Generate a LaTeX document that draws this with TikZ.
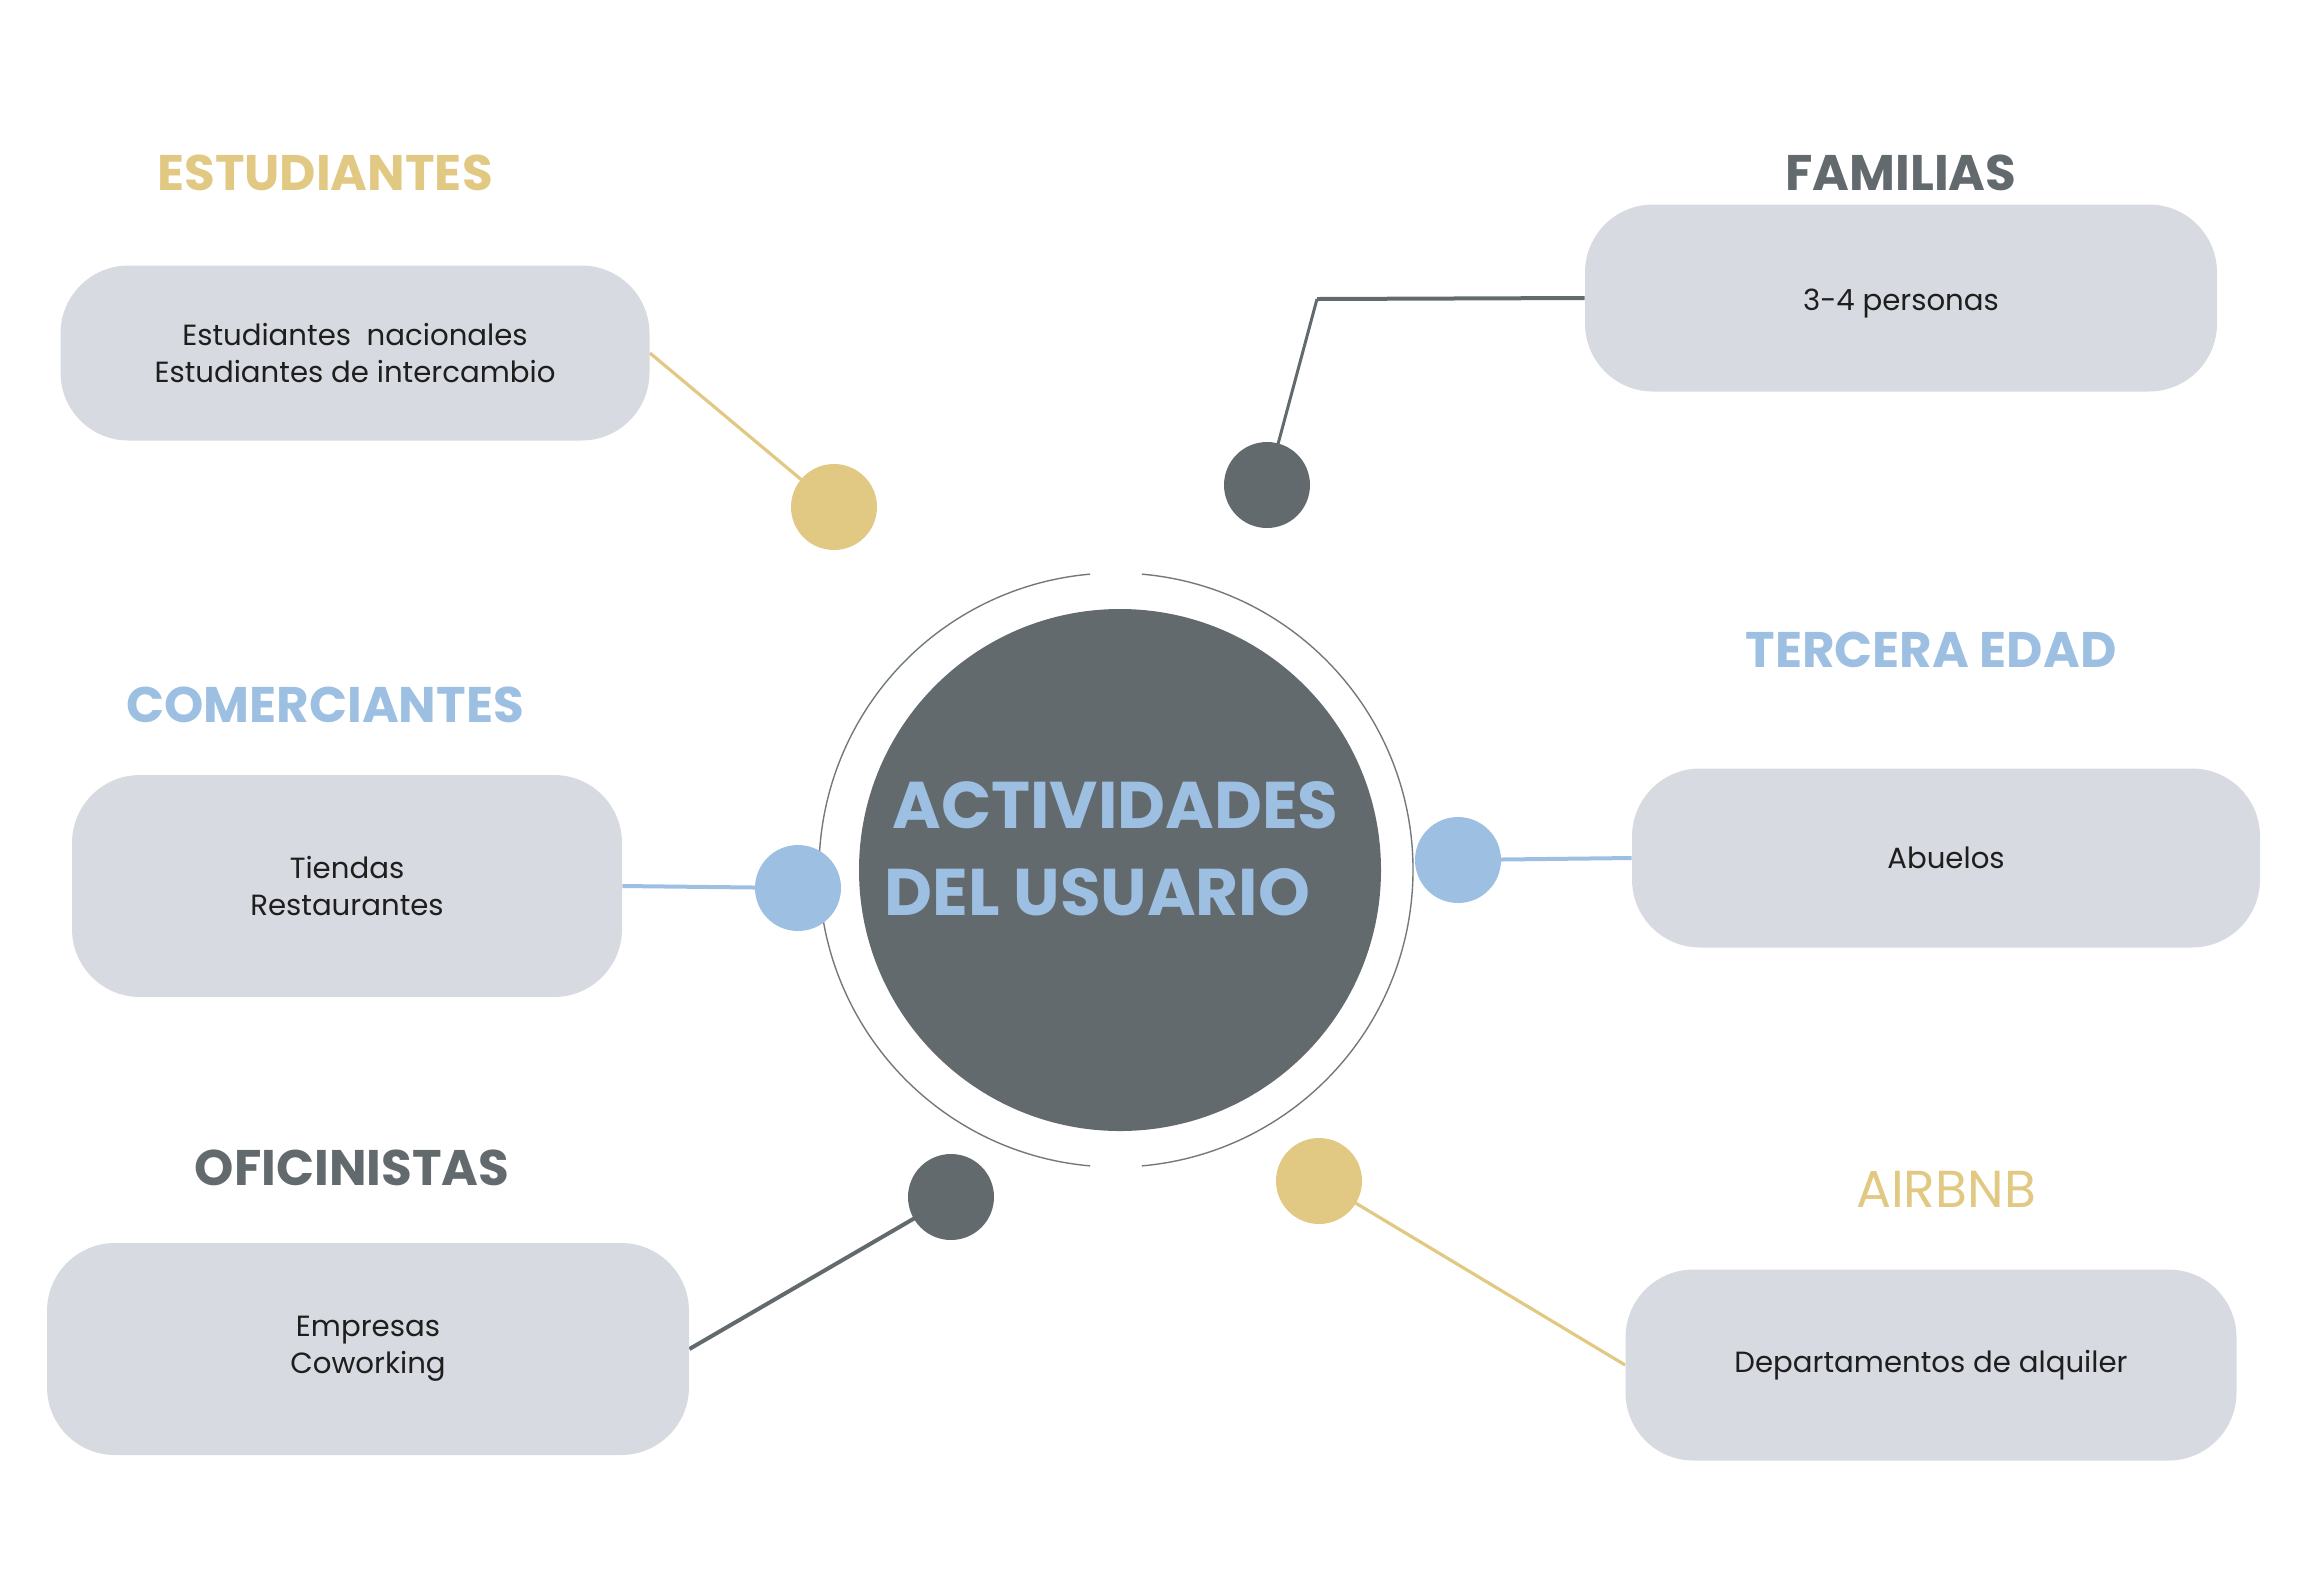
\documentclass[tikz,border=0pt]{standalone}
\usepackage{fontspec}
\setmainfont{Poppins}
\usetikzlibrary{backgrounds}
\definecolor{gold}{HTML}{E2C983}
\definecolor{sky}{HTML}{9DC0E2}
\definecolor{slate}{HTML}{636A6E}
\definecolor{boxgray}{HTML}{D7DAE0}
\definecolor{ink}{HTML}{1E1E1E}
\tikzset{
  card/.style={rectangle, fill=boxgray, rounded corners=34pt, inner sep=0pt,
    text=ink, align=center, font=\fontsize{14.6}{18.5}\selectfont},
  dot/.style={circle, inner sep=0pt, minimum size=43pt},
  ttl/.style={inner sep=0pt, font=\bfseries\fontsize{25}{28}\selectfont},
  hubtxt/.style={inner sep=0pt, anchor=base west, text=sky, font=\bfseries\fontsize{33}{36}\selectfont},
  link/.style={line width=2pt},
}
\begin{document}
\begin{tikzpicture}[x=0.5pt,y=-0.5pt]
\useasboundingbox (0,0) rectangle (2318,1576);

% center
\node[circle, fill=slate, inner sep=0pt, minimum size=261pt] (hub) at (1120,870) {};
\coordinate (ringc) at (1116,870);
\draw[slate!90, line width=0.7pt] (ringc) ++(95:297) arc (95:265:297);
\draw[slate!90, line width=0.7pt] (ringc) ++(-85:297) arc (-85:85:297);
\node[hubtxt] (hubA) at (892,828) {ACTIVIDADES};
\node[hubtxt] (hubB) at (884,915) {DEL USUARIO};

% cards
\node[card, minimum width=294.5pt, minimum height=87.5pt] (est) at (355,353) {Estudiantes\ \ nacionales\\Estudiantes de intercambio};
\node[card, minimum width=316pt, minimum height=93.5pt] (fam) at (1901,298) {\raisebox{-3pt}[\height][\depth]{3-4 personas}};
\node[card, minimum width=275pt, minimum height=111pt] (com) at (347,886) {Tiendas\\Restaurantes};
\node[card, minimum width=314pt, minimum height=89.5pt] (ter) at (1946,858) {Abuelos};
\node[card, minimum width=321pt, minimum height=106pt] (ofi) at (368,1349) {Empresas\\Coworking};
\node[card, minimum width=305.5pt, minimum height=95.5pt] (air) at (1931,1365) {Departamentos de alquiler};

% titles
\node[ttl, text=gold] (tEst) at (325,173) {ESTUDIANTES};
\node[ttl, text=slate] (tFam) at (1901,173) {FAMILIAS};
\node[ttl, text=sky] (tCom) at (325,705) {COMERCIANTES};
\node[ttl, text=sky] (tTer) at (1931,650) {TERCERA EDAD};
\node[ttl, text=slate] (tOfi) at (352,1168) {OFICINISTAS};
\node[inner sep=0pt, text=gold, font=\fontsize{26}{28}\selectfont] (tAir) at (1946,1189) {AIRBNB};

% dots
\node[dot, fill=gold] (dEst) at (834,507) {};
\node[dot, fill=slate] (dFam) at (1267,485) {};
\node[dot, fill=sky] (dCom) at (798,888) {};
\node[dot, fill=sky] (dTer) at (1458,860) {};
\node[dot, fill=slate] (dOfi) at (951,1197) {};
\node[dot, fill=gold] (dAir) at (1319,1181) {};
\coordinate (famCorner) at (1317,299);

% connectors
\begin{scope}[on background layer]
\draw[link, gold, line width=1.6pt] (est.east) -- (dEst.center);
\draw[link, slate] (fam.west) -- (famCorner);
\draw[link, slate, line width=1.5pt] (famCorner) -- (dFam.center);
\draw[link, sky] (com.east) -- (dCom.center);
\draw[link, sky] (dTer.center) -- (ter.west);
\draw[link, slate] (ofi.east) -- (dOfi.center);
\draw[link, gold, line width=1.6pt] (dAir.center) -- (air.west);
\end{scope}
\end{tikzpicture}
\end{document}
